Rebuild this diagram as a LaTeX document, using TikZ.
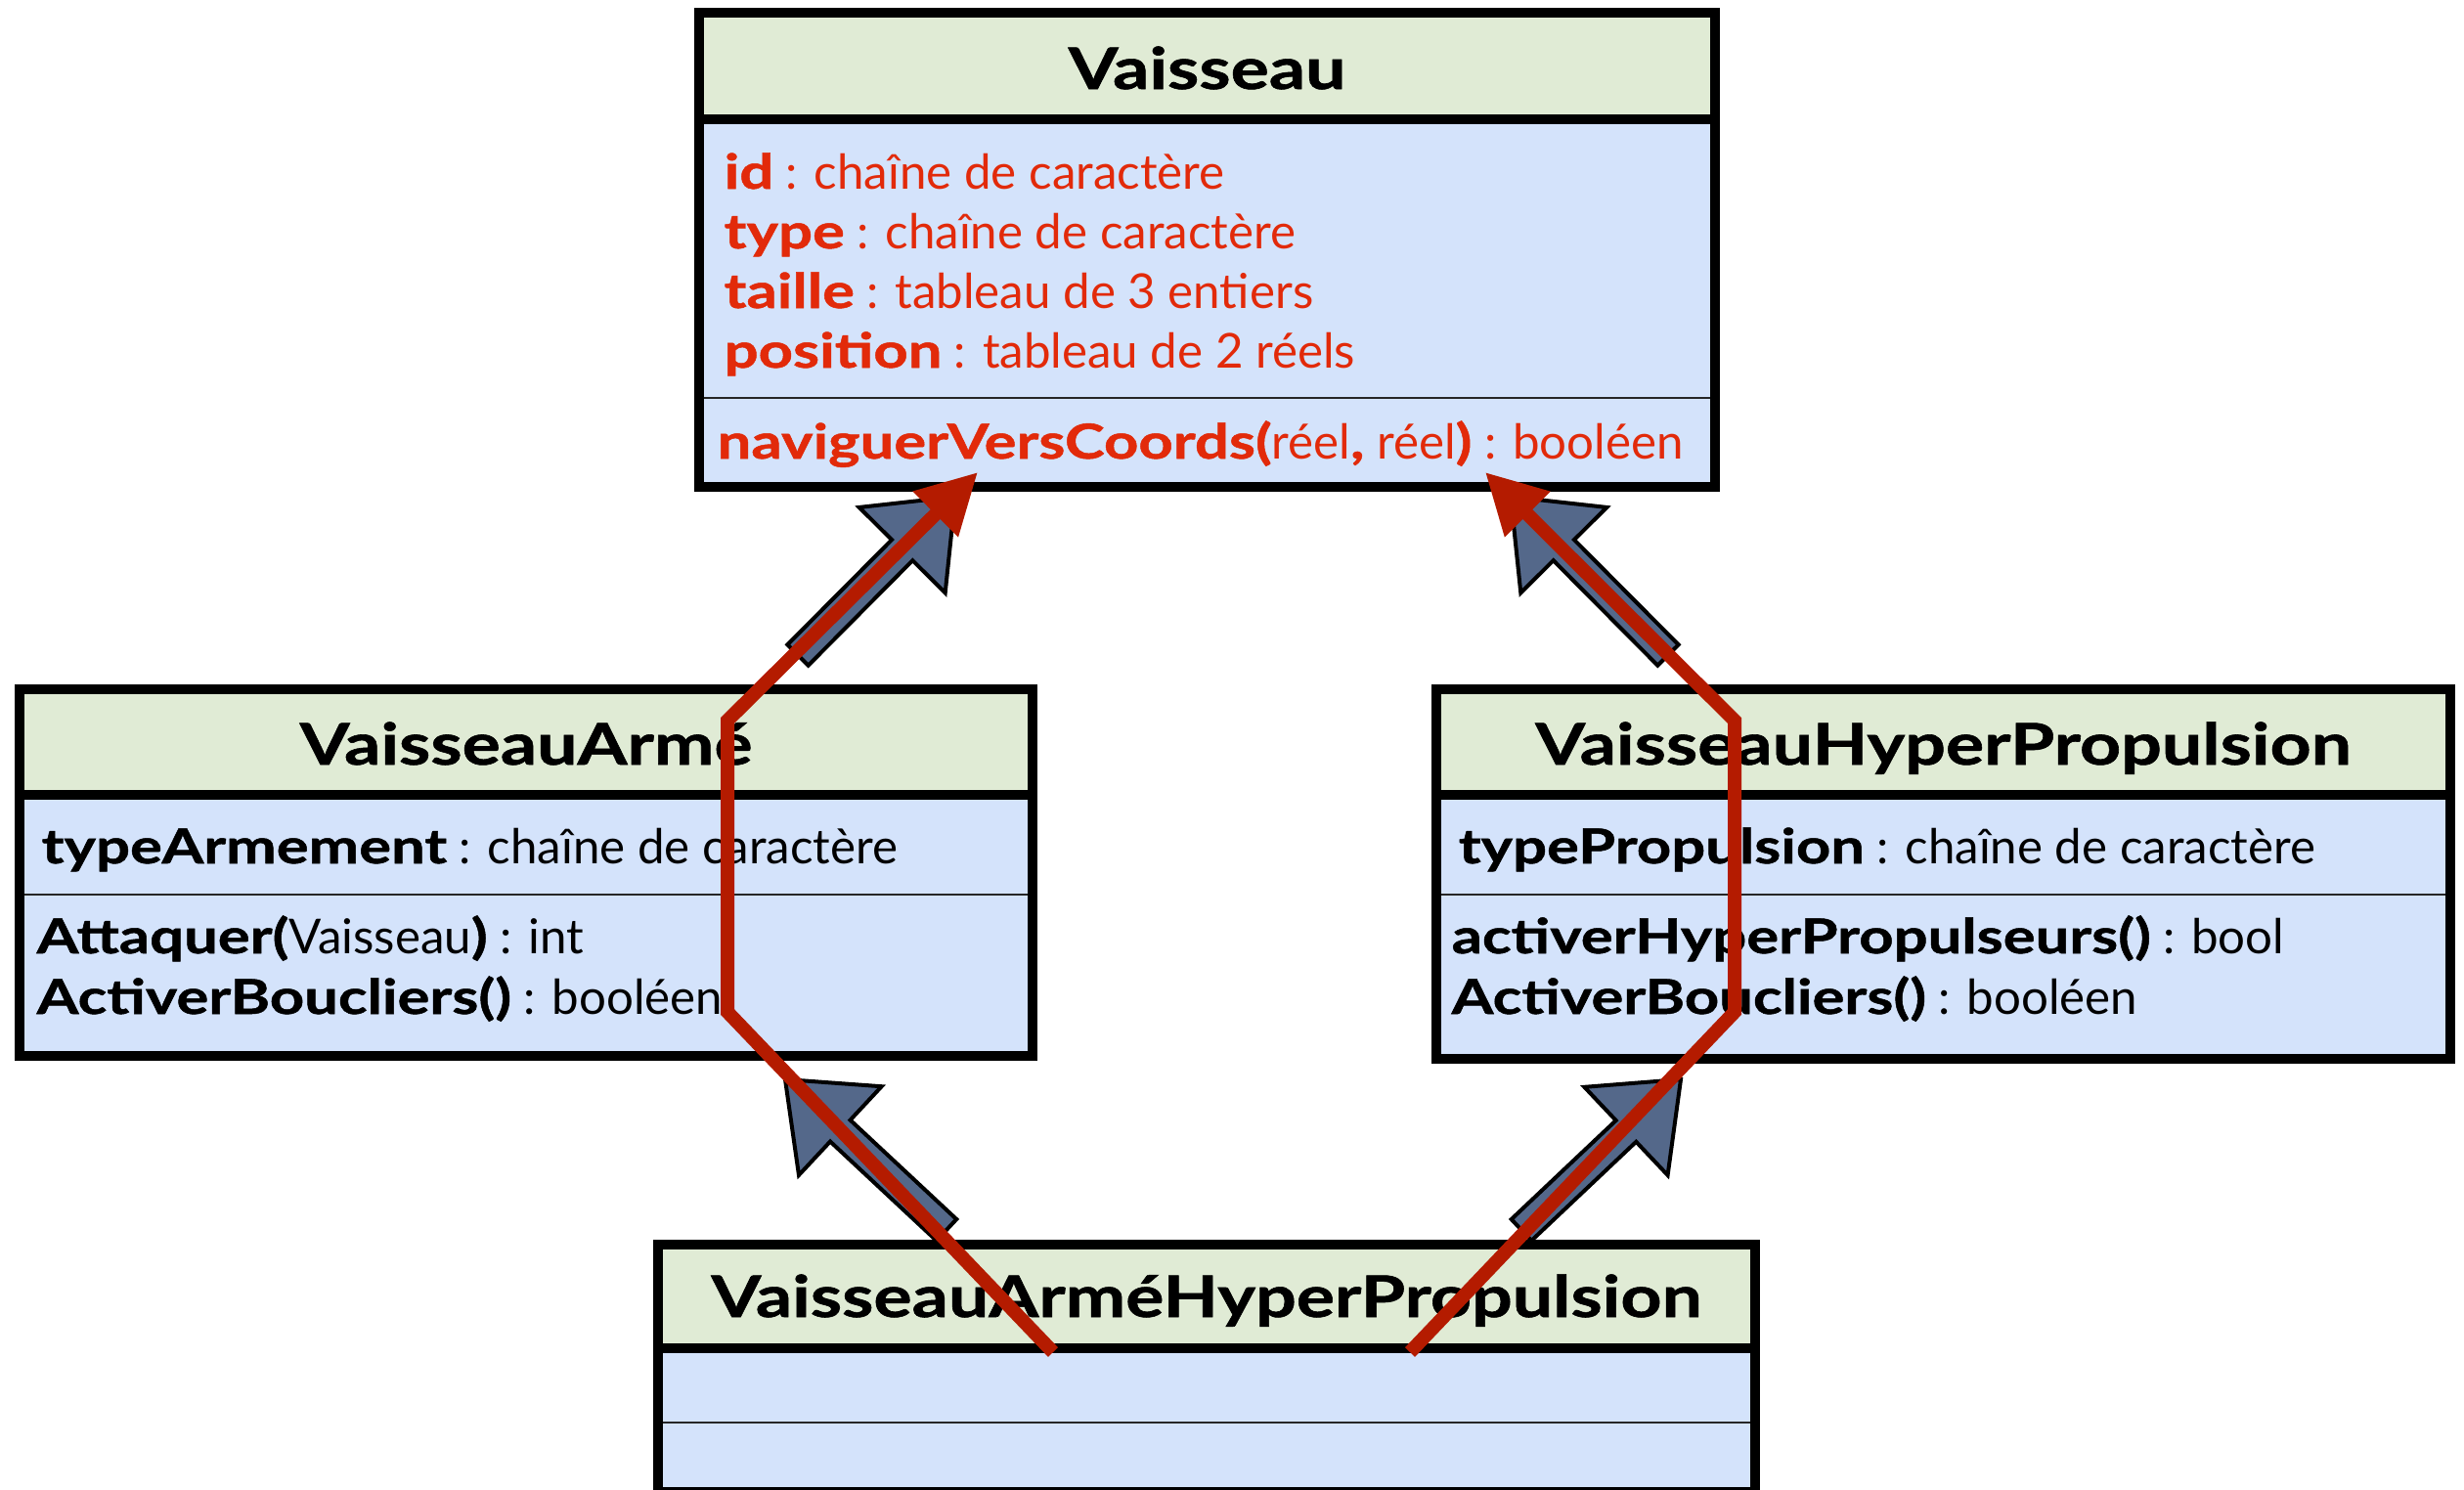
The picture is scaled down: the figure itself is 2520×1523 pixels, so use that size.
\documentclass[tikz,border=0pt]{standalone}
\usepackage{fontspec}
\setmainfont{Lato}[BoldFeatures={FakeStretch=1.25, FakeBold=1}]
\usetikzlibrary{calc,arrows.meta}

\definecolor{headfill}{RGB}{224,235,213}
\definecolor{bodyfill}{RGB}{212,227,251}
\definecolor{slate}{RGB}{84,104,138}
\definecolor{arrowred}{RGB}{180,27,0}
\definecolor{textred}{RGB}{226,42,10}

\tikzset{
  frameline/.style={line width=0.1cm, black, line cap=rect},
  sepline/.style={line width=0.025cm, black!85},
  classtitle/.style={anchor=base, inner sep=0pt, font=\fontsize{16.7pt}{20pt}\selectfont\bfseries},
  member/.style={anchor=base west, inner sep=0pt, font=\fontsize{14pt}{17pt}\selectfont},
  redmember/.style={member, text=textred},
  genarrowstyle/.style={fill=slate, draw=black, line width=0.04cm, line join=miter},
  overlay arrow/.style={arrowred, line width=0.14cm, line join=miter, line cap=butt,
    -{Triangle[length=0.61cm, width=0.62cm]}}
}

% class box: x1 y1 x2 y2 header-divider member-divider
\newcommand\classbox[6]{%
  \fill[bodyfill] (#1,#2) rectangle (#3,#4);
  \fill[headfill] (#1,#2) rectangle (#3,#5);
  \draw[sepline] (#1,#6) -- (#3,#6);
  \draw[frameline] (#1,#5) -- (#3,#5);
  \draw[frameline] (#1,#2) rectangle (#3,#4);
}

% generalization block arrow from coordinate #1 to tip coordinate #2
\newcommand\genarrow[2]{%
  \coordinate (#2-b) at ($(#2)!0.77cm!(#1)$);
  \filldraw[genarrowstyle] (#2)
    -- ($(#2-b)!0.62cm!90:(#2)$) -- ($(#2-b)!0.15cm!90:(#2)$)
    -- ($(#1)!0.15cm!90:(#2)$) -- ($(#1)!0.15cm!-90:(#2)$)
    -- ($(#2-b)!0.15cm!-90:(#2)$) -- ($(#2-b)!0.62cm!-90:(#2)$) -- cycle;
}

\begin{document}
\begin{tikzpicture}[x=0.01cm, y=-0.01cm]
\useasboundingbox (0,0) rectangle (2520,1523);
\clip (0,0) rectangle (2520,1523);
\fill[white] (0,0) rectangle (2520,1523);

% ---- Vaisseau ----
\classbox{715}{13}{1754}{498}{122}{407}
\node[classtitle] (vTitle) at (1234.5,91) {Vaisseau};
\node[redmember] (vId)   at (740,193) {\textbf{id} : chaîne de caractère};
\node[redmember] (vType) at (740,254) {\textbf{type} : chaîne de caractère};
\node[redmember] (vSize) at (740,315) {\textbf{taille} : tableau de 3 entiers};
\node[redmember] (vPos)  at (740,376) {\textbf{position} : tableau de 2 réels};
\node[redmember] (vNav)  at (733,469) {\textbf{naviguerVersCoords(}réel\textbf{,} réel\textbf{)} : booléen};

% ---- VaisseauArmé ----
\classbox{20}{705}{1056}{1080}{813}{915}
\node[classtitle] (aTitle) at (538,782) {VaisseauArmé};
\node[member] (aType) at (42,883) {\textbf{typeArmement} : chaîne de caractère};
\node[member] (aAtk)  at (37,975) {\textbf{Attaquer(}Vaisseau\textbf{)} : int};
\node[member] (aShd)  at (37,1037) {\textbf{ActiverBoucliers()} : booléen};

% ---- VaisseauHyperPropulsion ----
\classbox{1469}{705}{2506}{1083}{813}{915}
\node[classtitle] (hTitle) at (1987.5,782) {VaisseauHyperPropulsion};
\node[member] (hType) at (1491,883) {\textbf{typePropulsion} : chaîne de caractère};
\node[member] (hHyp)  at (1484,975) {\textbf{activerHyperPropulseurs()} : bool};
\node[member] (hShd)  at (1484,1037) {\textbf{ActiverBoucliers()} : booléen};

% ---- VaisseauArméHyperPropulsion ----
\classbox{673}{1273}{1795}{1526}{1379}{1455}
\node[classtitle] (ahTitle) at (1234,1347) {VaisseauArméHyperPropulsion};

% ---- generalization arrows ----
\coordinate (s1) at (816,670);   \coordinate (t1) at (977,508);
\coordinate (s2) at (1706,670);  \coordinate (t2) at (1545,508);
\coordinate (s3) at (968,1258);  \coordinate (t3) at (803,1104);
\coordinate (s4) at (1556,1258); \coordinate (t4) at (1719,1104);
\genarrow{s1}{t1}
\genarrow{s2}{t2}
\genarrow{s3}{t3}
\genarrow{s4}{t4}

% ---- inheritance paths of naviguerVersCoords ----
\coordinate (la) at (1077,1383); \coordinate (lb) at (744,1035);
\coordinate (lc) at (744,737);   \coordinate (ld) at (1000,483);
\coordinate (ra) at (1442,1383); \coordinate (rb) at (1774,1035);
\coordinate (rc) at (1774,737);  \coordinate (rd) at (1519,483);
\draw[overlay arrow] (la) -- (lb) -- (lc) -- (ld);
\draw[overlay arrow] (ra) -- (rb) -- (rc) -- (rd);
\end{tikzpicture}
\end{document}
